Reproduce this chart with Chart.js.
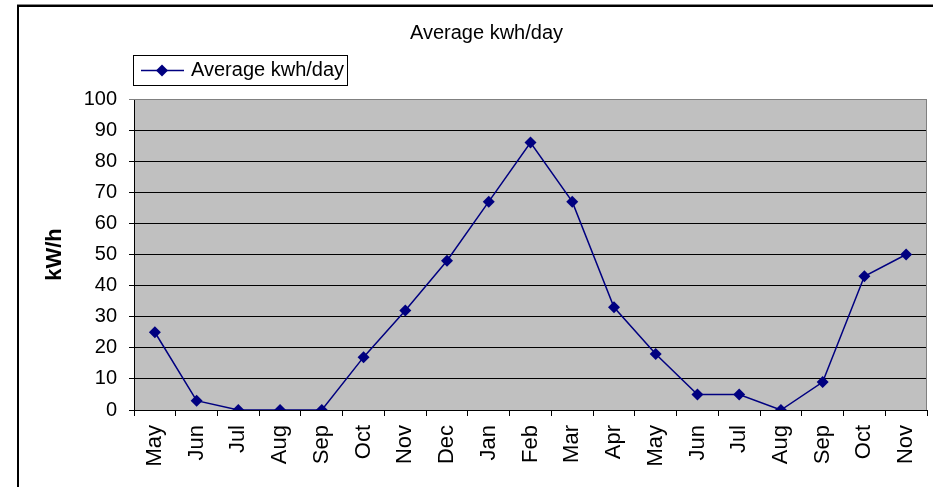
<!DOCTYPE html>
<html>
<head>
<meta charset="utf-8">
<script src="https://cdn.jsdelivr.net/npm/chart.js@4.4.1/dist/chart.umd.min.js"></script>
<style>
html,body{margin:0;padding:0;background:#fff;}
#wrap{width:933px;height:487px;position:relative;}
</style>
</head>
<body>
<div id="wrap"><canvas id="c" width="933" height="487"></canvas></div>
<script>
const categories = ["May","Jun","Jul","Aug","Sep","Oct","Nov","Dec","Jan","Feb","Mar","Apr","May","Jun","Jul","Aug","Sep","Oct","Nov"];
const kwhPerDay = [25, 3, 0, 0, 0, 17, 32, 48, 67, 86, 67, 33, 18, 5, 5, 0, 9, 43, 50];
const seriesName = "Average kwh/day";
const chartTitle = "Average kwh/day";
const yAxisTitle = "kW/h";
const yTicks = [0,10,20,30,40,50,60,70,80,90,100];

const FONT = "'Liberation Sans', Arial, sans-serif";
const NAVY = "#000080";

const decor = {
  id: 'decor',
  beforeDraw(chart) {
    const {ctx, chartArea: a} = chart;
    ctx.save();
    ctx.fillStyle = '#fff';
    ctx.fillRect(0, 0, chart.width, chart.height);
    ctx.fillStyle = '#888';
    ctx.fillRect(17, 4, chart.width, 1);
    ctx.fillStyle = '#000';
    ctx.fillRect(17, 5, chart.width, 2);
    ctx.fillRect(17, 5, 2, chart.height);
    ctx.fillStyle = '#C0C0C0';
    ctx.fillRect(a.left, a.top, a.right - a.left, a.bottom - a.top);
    ctx.restore();
  },
  afterDatasetsDraw(chart) {
    const {ctx, chartArea: a} = chart;
    ctx.save();
    ctx.strokeStyle = '#808080';
    ctx.lineWidth = 1;
    ctx.beginPath();
    ctx.moveTo(a.left, a.top + 0.5);
    ctx.lineTo(a.right - 0.5, a.top + 0.5);
    ctx.lineTo(a.right - 0.5, a.bottom);
    ctx.stroke();
    const lx = 133, ly = 55, lw = 214, lh = 30;
    ctx.fillStyle = '#fff';
    ctx.fillRect(lx, ly, lw, lh);
    ctx.strokeStyle = '#000';
    ctx.strokeRect(lx + 0.5, ly + 0.5, lw, lh);
    const cy = ly + lh / 2 + 0.5;
    ctx.strokeStyle = NAVY;
    ctx.lineWidth = 1.5;
    ctx.beginPath();
    ctx.moveTo(141, cy);
    ctx.lineTo(184, cy);
    ctx.stroke();
    ctx.fillStyle = NAVY;
    ctx.beginPath();
    ctx.moveTo(162, cy - 6);
    ctx.lineTo(168, cy);
    ctx.lineTo(162, cy + 6);
    ctx.lineTo(156, cy);
    ctx.closePath();
    ctx.fill();
    ctx.fillStyle = '#000';
    ctx.font = '20px ' + FONT;
    ctx.textBaseline = 'middle';
    ctx.textAlign = 'left';
    ctx.fillText(seriesName, 191, cy);
    ctx.restore();
  }
};

new Chart(document.getElementById('c'), {
  type: 'line',
  data: {
    labels: categories,
    datasets: [{
      label: seriesName,
      data: kwhPerDay,
      borderColor: NAVY,
      backgroundColor: NAVY,
      borderWidth: 1.5,
      pointStyle: 'rectRot',
      pointRadius: 6,
      pointBorderWidth: 0,
      pointBackgroundColor: NAVY,
      tension: 0,
      fill: false
    }]
  },
  options: {
    responsive: false,
    animation: false,
    layout: { padding: { left: 40, right: 0, top: 0, bottom: 0 } },
    plugins: {
      legend: { display: false },
      tooltip: { enabled: false },
      title: {
        display: true,
        text: chartTitle,
        color: '#000',
        font: { family: FONT, size: 20, weight: 'normal' },
        padding: { top: 21, bottom: 54 }
      }
    },
    scales: {
      x: {
        offset: true,
        grid: { display: true, drawOnChartArea: false, drawTicks: true, tickLength: 6, color: '#000', offset: true },
        border: { display: true, color: '#000', width: 1 },
        ticks: {
          color: '#000', font: { family: FONT, size: 22 },
          minRotation: 90, maxRotation: 90, padding: 9, autoSkip: false
        },
        afterFit(scale) { scale.height = 77; scale.paddingLeft = 0; scale.paddingRight = 0; }
      },
      y: {
        min: 0, max: 100,
        afterBuildTicks(scale) { scale.ticks = yTicks.map(v => ({ value: v })); },
        grid: {
          color: (c) => (c.tick && c.tick.value === 100) ? '#808080' : '#000',
          lineWidth: 1, drawTicks: true, tickLength: 5
        },
        border: { display: true, color: '#000', width: 1 },
        ticks: { color: '#000', font: { family: FONT, size: 20 }, padding: 12 },
        title: {
          display: true, text: yAxisTitle, color: '#000',
          font: { family: FONT, size: 22, weight: 'bold' },
          padding: { top: 2, bottom: 0 }
        },
        afterFit(scale) { scale.width = 94; scale.paddingTop = 0; scale.paddingBottom = 0; }
      }
    }
  },
  plugins: [decor]
});
</script>
</body>
</html>
